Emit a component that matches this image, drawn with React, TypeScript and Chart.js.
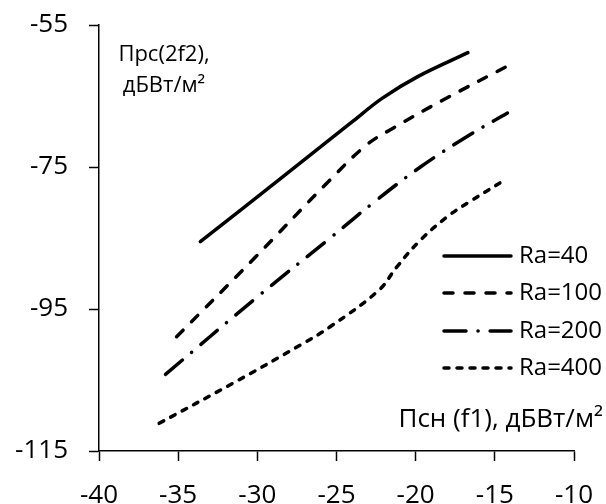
import React, { useEffect, useRef } from "react";
import { Chart, registerables } from "chart.js";

Chart.register(...registerables);

const seriesNames = ["Ra=40", "Ra=100", "Ra=200", "Ra=400"];

const ra40X = [-33.6, -28.4, -24.1, -22.1, -19.9, -16.7];
const ra40Y = [-85.5, -76.4, -68.8, -65.3, -62.3, -58.9];

const ra100X = [-35.1, -30.3, -25.4, -23.1, -21.4, -18.3, -13.7];
const ra100Y = [-98.9, -88.1, -76.8, -71.9, -69.5, -65.6, -60.2];

const ra200X = [-35.8, -30.0, -25.4, -22.6, -19.7, -16.6, -14.2];
const ra200Y = [-104.2, -93.3, -85.0, -79.9, -75.0, -70.5, -67.4];

const ra400X = [-36.2, -31.5, -27.3, -25.4, -22.3, -21.2, -19.7, -18.0, -16.6, -14.5];
const ra400Y = [-111.1, -105.4, -100.1, -97.5, -92.3, -89.1, -85.3, -82.0, -79.9, -77.0];

const xTicks = [-40, -35, -30, -25, -20, -15, -10];
const yTicks = [-115, -95, -75, -55];

const yTitleLines = ["Прс(2f2),", "дБВт/м²"];
const xTitle = "Псн (f1), дБВт/м²";

const dashes: number[][] = [[], [9, 12], [22, 12, 0.1, 12], [5, 8]];

const FONT = "'Open Sans', 'Noto Sans', sans-serif";

function pts(xs: number[], ys: number[]) {
  return xs.map((x, i) => ({ x, y: ys[i] }));
}

const overlayPlugin = {
  id: "overlay",
  afterDraw(chart: any) {
    const ctx = chart.ctx as CanvasRenderingContext2D;
    ctx.save();
    ctx.fillStyle = "#000";
    ctx.font = `22px ${FONT}`;
    ctx.textAlign = "center";
    ctx.textBaseline = "middle";
    ctx.fillText(yTitleLines[0], 164, 55);
    ctx.fillText(yTitleLines[1], 164, 86);

    ctx.font = `26px ${FONT}`;
    ctx.textAlign = "right";
    ctx.fillText(xTitle, 603, 420);

    // legend
    ctx.font = `24px ${FONT}`;
    const ys = [256, 293, 331, 368];
    chart.data.datasets.forEach((ds: any, i: number) => {
      ctx.save();
      ctx.strokeStyle = "#000";
      ctx.lineWidth = 3.5;
      ctx.lineCap = "round";
      ctx.setLineDash(ds.borderDash || []);
      ctx.beginPath();
      ctx.moveTo(444, ys[i]);
      ctx.lineTo(511, ys[i]);
      ctx.stroke();
      ctx.restore();
      ctx.textAlign = "left";
      ctx.fillText(ds.label, 519, ys[i]);
    });
    ctx.restore();
  },
};

export default function App() {
  const ref = useRef<HTMLCanvasElement>(null);
  useEffect(() => {
    if (!ref.current) return;
    const allX = [ra40X, ra100X, ra200X, ra400X];
    const allY = [ra40Y, ra100Y, ra200Y, ra400Y];
    const chart = new Chart(ref.current, {
      type: "line",
      data: {
        datasets: seriesNames.map((name, i) => ({
          label: name,
          data: pts(allX[i], allY[i]),
          borderColor: "#000",
          backgroundColor: "#000",
          borderWidth: 3.5,
          borderDash: dashes[i],
          borderCapStyle: "round" as const,
          borderJoinStyle: "round" as const,
          pointRadius: 0,
          tension: 0.4,
          fill: false,
        })),
      },
      options: {
        animation: false,
        responsive: true,
        maintainAspectRatio: false,
        layout: { padding: { top: 25, right: 32, left: 0, bottom: 0 } },
        plugins: {
          legend: { display: false },
          tooltip: { enabled: false },
        },
        scales: {
          x: {
            type: "linear",
            min: xTicks[0],
            max: xTicks[xTicks.length - 1],
            afterBuildTicks: (s: any) => {
              s.ticks = xTicks.map((v) => ({ value: v }));
            },
            afterFit: (s: any) => {
              s.height = 53;
              s.paddingLeft = 0;
              s.paddingRight = 0;
            },
            grid: {
              drawOnChartArea: false,
              drawTicks: true,
              tickLength: 10,
              tickColor: "#000",
              tickWidth: 1.5,
            },
            border: { color: "#000", width: 1.5 },
            ticks: {
              color: "#000",
              font: { family: FONT, size: 26 },
              padding: 19,
              maxRotation: 0,
            },
          },
          y: {
            type: "linear",
            min: yTicks[0],
            max: yTicks[yTicks.length - 1],
            afterBuildTicks: (s: any) => {
              s.ticks = yTicks.map((v) => ({ value: v }));
            },
            afterFit: (s: any) => {
              s.width = 99;
              s.paddingTop = 0;
              s.paddingBottom = 0;
            },
            grid: {
              drawOnChartArea: false,
              drawTicks: true,
              tickLength: 10,
              tickColor: "#000",
              tickWidth: 1.5,
            },
            border: { color: "#000", width: 1.5 },
            ticks: {
              color: "#000",
              font: { family: FONT, size: 26 },
              padding: 21,
            },
          },
        },
      },
      plugins: [overlayPlugin],
    });
    return () => chart.destroy();
  }, []);
  return (
    <div style={{ position: "fixed", left: 0, top: 0, width: 606, height: 504, background: "#fff" }}>
      <canvas ref={ref} />
    </div>
  );
}
